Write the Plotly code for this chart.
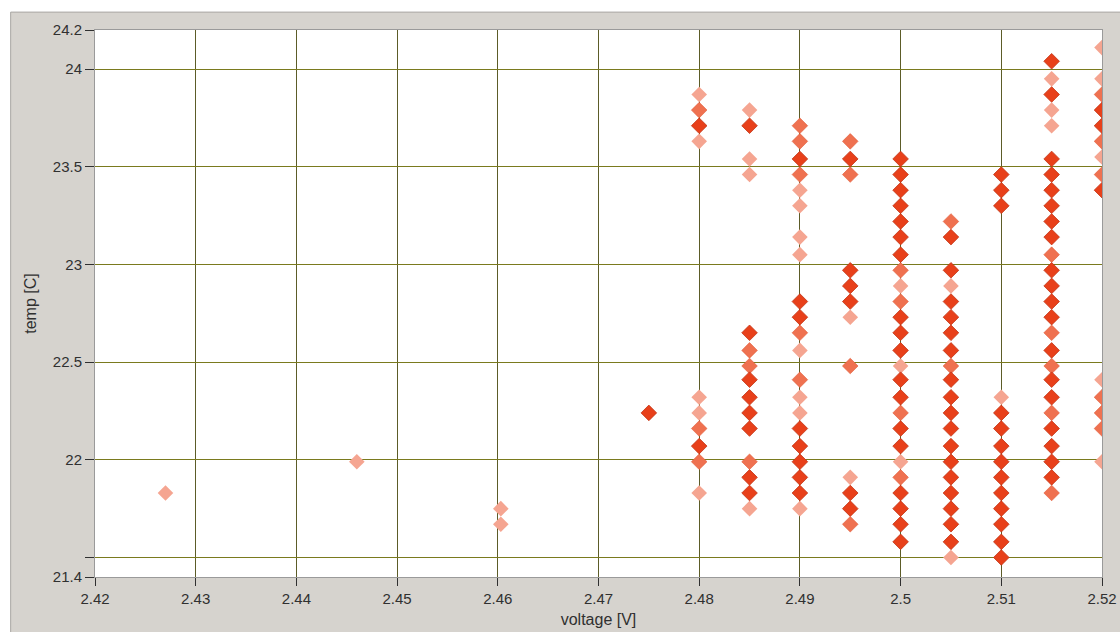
import plotly.graph_objects as go

# ---- data ----
x_ticks = [2.42, 2.43, 2.44, 2.45, 2.46, 2.47, 2.48, 2.49, 2.50, 2.51, 2.52]
x_tick_text = ["2.42", "2.43", "2.44", "2.45", "2.46", "2.47", "2.48", "2.49", "2.5", "2.51", "2.52"]
y_ticks = [21.4, 21.5, 22.0, 22.5, 23.0, 23.5, 24.0, 24.2]
y_tick_text = ["21.4", "", "22", "22.5", "23", "23.5", "24", "24.2"]

# light (single readings)
light_volt = ([2.427] + [2.446] + [2.4603] * 2 + [2.48] * 5 + [2.485] * 4 + [2.49] * 8
              + [2.495] * 2 + [2.50] * 3 + [2.505] * 2 + [2.51] + [2.515] * 3 + [2.52] * 5)
light_temp = [21.83,
              21.99,
              21.75, 21.67,
              23.87, 23.63, 22.32, 22.24, 21.83,
              23.79, 23.54, 23.46, 21.75,
              23.38, 23.30, 23.14, 23.05, 22.56, 22.32, 22.24, 21.75,
              22.73, 21.91,
              22.89, 22.48, 21.99,
              22.89, 21.50,
              22.32,
              23.95, 23.79, 23.71,
              24.11, 23.95, 23.55, 22.41, 21.99]

# medium
mid_volt = ([2.48] * 3 + [2.485] * 3 + [2.49] * 5 + [2.495] * 4 + [2.50] * 4
            + [2.505] * 2 + [2.515] * 5 + [2.52] * 6)
mid_temp = [23.79, 22.16, 21.99,
            22.56, 22.48, 21.99,
            23.71, 23.63, 23.46, 22.65, 22.41,
            23.63, 23.46, 22.48, 21.67,
            22.97, 22.81, 22.24, 21.91,
            23.22, 22.48,
            23.05, 22.65, 22.48, 22.24, 21.83,
            23.87, 23.63, 23.46, 22.32, 22.24, 22.16]

# dark (many readings)
dark_volt = ([2.475] + [2.48] * 2 + [2.485] * 8 + [2.49] * 8 + [2.495] * 6 + [2.50] * 18
             + [2.505] * 17 + [2.51] * 13 + [2.515] * 19 + [2.52] * 3)
dark_temp = [22.24,
             23.71, 22.07,
             23.71, 22.65, 22.41, 22.32, 22.24, 22.16, 21.91, 21.83,
             23.54, 22.81, 22.73, 22.16, 22.07, 21.99, 21.91, 21.83,
             23.54, 22.97, 22.89, 22.81, 21.83, 21.75,
             23.54, 23.46, 23.38, 23.30, 23.22, 23.14, 23.05, 22.73, 22.65, 22.56,
             22.41, 22.32, 22.16, 22.07, 21.83, 21.75, 21.67, 21.58,
             23.14, 22.97, 22.81, 22.73, 22.65, 22.56, 22.41, 22.32, 22.24, 22.16,
             22.07, 21.99, 21.91, 21.83, 21.75, 21.67, 21.58,
             23.46, 23.38, 23.30, 22.24, 22.16, 22.07, 21.99, 21.91, 21.83, 21.75,
             21.67, 21.58, 21.50,
             24.04, 23.87, 23.54, 23.46, 23.38, 23.30, 23.22, 23.14, 22.97, 22.89,
             22.81, 22.73, 22.56, 22.41, 22.32, 22.16, 22.07, 21.99, 21.91,
             23.79, 23.71, 23.38]

# ---- figure ----
fig = go.Figure()
MS = 12
fig.add_trace(go.Scatter(x=light_volt, y=light_temp, mode="markers",
                         marker=dict(symbol="diamond", size=MS, color="#f5a591",
                                     line=dict(width=0)), showlegend=False))
fig.add_trace(go.Scatter(x=mid_volt, y=mid_temp, mode="markers",
                         marker=dict(symbol="diamond", size=MS, color="#ef7150",
                                     line=dict(width=0.6, color="#e05a38")), showlegend=False))
fig.add_trace(go.Scatter(x=dark_volt, y=dark_temp, mode="markers",
                         marker=dict(symbol="diamond", size=MS, color="#e8401a",
                                     line=dict(width=0.8, color="#c23515")), showlegend=False))

W, H = 1129, 637
L, R, T, B = 95, 19, 30, 57
pw, ph = W - L - R, H - T - B

def px2paper_x(p):
    return (p - L) / pw

def px2paper_y(p):
    return (H - B - p) / ph

shapes = [
    # grey panel
    dict(type="rect", xref="paper", yref="paper", layer="below",
         x0=px2paper_x(10), x1=px2paper_x(1150), y0=px2paper_y(12), y1=px2paper_y(660),
         fillcolor="#d6d3ce", line=dict(color="#a9a7a3", width=1)),
    # white plot area
    dict(type="rect", xref="x", yref="y", layer="below",
         x0=2.42, x1=2.52, y0=21.4, y1=24.2,
         fillcolor="#ffffff", line=dict(width=0)),
]

FONT = "Liberation Sans, Arial, sans-serif"
fig.update_layout(
    width=W, height=H,
    margin=dict(l=L, r=R, t=T, b=B),
    paper_bgcolor="#ffffff",
    plot_bgcolor="#ffffff",
    shapes=shapes,
    font=dict(family=FONT, size=15, color="#303030"),
    xaxis=dict(range=[2.42, 2.52], tickmode="array", tickvals=x_ticks, ticktext=x_tick_text,
               showgrid=True, gridcolor="#5c5c28", gridwidth=1,
               ticks="outside", ticklen=8, tickcolor="#303030", tickwidth=1,
               showline=True, linecolor="#9a9a9a", linewidth=1, mirror=True,
               zeroline=False,
               tickfont=dict(size=15, color="#303030"),
               title=dict(text="voltage [V]", font=dict(size=16, color="#303030"), standoff=7)),
    yaxis=dict(range=[21.4, 24.2], tickmode="array", tickvals=y_ticks, ticktext=y_tick_text,
               showgrid=True, gridcolor="#7a7a1e", gridwidth=1,
               ticks="outside", ticklen=9, tickcolor="#303030", tickwidth=1,
               showline=True, linecolor="#9a9a9a", linewidth=1, mirror=True,
               zeroline=False,
               tickfont=dict(size=15, color="#303030"),
               title=dict(text="temp [C]", font=dict(size=16, color="#303030"), standoff=12)),
)

# remove the default page margin so the figure starts at the window's corner
fig.write_html("out.html", config={"displayModeBar": False},
               post_script="document.body.style.margin='0';document.body.style.overflow='hidden';")
